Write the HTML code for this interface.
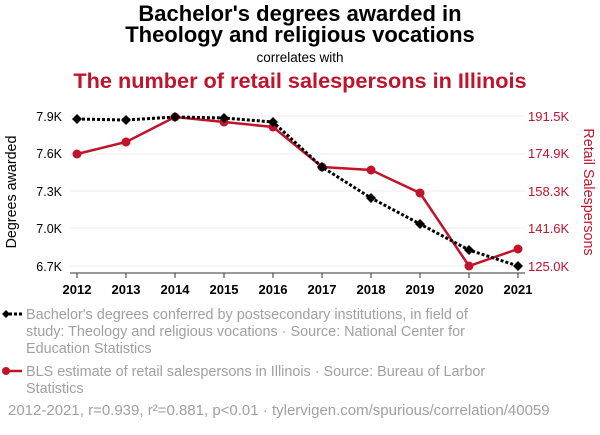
<!DOCTYPE html>
<html><head><meta charset="utf-8"><style>
body{margin:0;background:#fff;width:600px;height:430px;overflow:hidden;font-family:"Liberation Sans",sans-serif}
</style></head><body>
<svg width="600" height="430" xmlns="http://www.w3.org/2000/svg" font-family="Liberation Sans, sans-serif">
<text x="300" y="21" text-anchor="middle" font-size="22" font-weight="bold" fill="#000">Bachelor's degrees awarded in</text>
<text x="300" y="42" text-anchor="middle" font-size="22" font-weight="bold" fill="#000">Theology and religious vocations</text>
<text x="300" y="62" text-anchor="middle" font-size="13.5" fill="#000">correlates with</text>
<text x="300" y="88" text-anchor="middle" font-size="21.7" font-weight="bold" fill="#c0142c">The number of retail salespersons in Illinois</text>
<g stroke="#eee" stroke-width="1">
<line x1="70" x2="525" y1="116" y2="116"/><line x1="70" x2="525" y1="154" y2="154"/><line x1="70" x2="525" y1="191" y2="191"/><line x1="70" x2="525" y1="228" y2="228"/><line x1="70" x2="525" y1="266" y2="266"/>
</g>
<line x1="70" x2="525" y1="273" y2="273" stroke="#333"/>
<g stroke="#333">
<line x1="77" x2="77" y1="273" y2="278"/><line x1="126" x2="126" y1="273" y2="278"/><line x1="175" x2="175" y1="273" y2="278"/><line x1="224" x2="224" y1="273" y2="278"/><line x1="273" x2="273" y1="273" y2="278"/><line x1="322" x2="322" y1="273" y2="278"/><line x1="371" x2="371" y1="273" y2="278"/><line x1="420" x2="420" y1="273" y2="278"/><line x1="469" x2="469" y1="273" y2="278"/><line x1="518" x2="518" y1="273" y2="278"/>
</g>
<g font-size="13" font-weight="bold" text-anchor="middle" fill="#000">
<text x="77" y="294">2012</text><text x="126" y="294">2013</text><text x="175" y="294">2014</text><text x="224" y="294">2015</text><text x="273" y="294">2016</text><text x="322" y="294">2017</text><text x="371" y="294">2018</text><text x="420" y="294">2019</text><text x="469" y="294">2020</text><text x="518" y="294">2021</text>
</g>
<g font-size="12.5" text-anchor="end" fill="#000">
<text x="62" y="121">7.9K</text><text x="62" y="158">7.6K</text><text x="62" y="196">7.3K</text><text x="62" y="233">7.0K</text><text x="62" y="271">6.7K</text>
</g>
<g font-size="13" text-anchor="start" fill="#c0142c">
<text x="528" y="121">191.5K</text><text x="528" y="158">174.9K</text><text x="528" y="196">158.3K</text><text x="528" y="233">141.6K</text><text x="528" y="271">125.0K</text>
</g>
<text transform="translate(16,192) rotate(-90)" text-anchor="middle" font-size="14.3" fill="#000">Degrees awarded</text>
<text transform="translate(584,192) rotate(90)" text-anchor="middle" font-size="14.3" fill="#c0142c">Retail Salespersons</text>
<polyline fill="none" stroke="#c0142c" stroke-width="2.5" points="77,154 126,142 175,117 224,122 273,127 322,167 371,170 420,193 469,266 518,249"/>
<g fill="#c0142c"><circle cx="77" cy="154" r="4.5"/><circle cx="126" cy="142" r="4.5"/><circle cx="175" cy="117" r="4.5"/><circle cx="224" cy="122" r="4.5"/><circle cx="273" cy="127" r="4.5"/><circle cx="322" cy="167" r="4.5"/><circle cx="371" cy="170" r="4.5"/><circle cx="420" cy="193" r="4.5"/><circle cx="469" cy="266" r="4.5"/><circle cx="518" cy="249" r="4.5"/></g>
<polyline fill="none" stroke="#000" stroke-width="3" stroke-dasharray="3,2" points="77,119 126,120 175,117 224,118 273,122 322,167 371,198 420,224 469,250 518,266"/>
<g fill="#000">
<path d="M77,114l5,5l-5,5l-5,-5z"/><path d="M126,115l5,5l-5,5l-5,-5z"/><path d="M175,112l5,5l-5,5l-5,-5z"/><path d="M224,113l5,5l-5,5l-5,-5z"/><path d="M273,117l5,5l-5,5l-5,-5z"/><path d="M322,162l5,5l-5,5l-5,-5z"/><path d="M371,193l5,5l-5,5l-5,-5z"/><path d="M420,219l5,5l-5,5l-5,-5z"/><path d="M469,245l5,5l-5,5l-5,-5z"/><path d="M518,261l5,5l-5,5l-5,-5z"/>
</g>
<line x1="4" x2="22" y1="314" y2="314" stroke="#000" stroke-width="3" stroke-dasharray="3,2"/>
<path d="M6,310l4,4l-4,4l-4,-4z" fill="#000"/>
<g font-size="14.4" fill="#a0a0a0">
<text x="26" y="319">Bachelor's degrees conferred by postsecondary institutions, in field of</text>
<text x="26" y="336">study: Theology and religious vocations · Source: National Center for</text>
<text x="26" y="353">Education Statistics</text>
<text x="26" y="376">BLS estimate of retail salespersons in Illinois · Source: Bureau of Larbor</text>
<text x="26" y="393">Statistics</text>
<text x="8" y="415" font-size="15">2012-2021, r=0.939, r²=0.881, p&lt;0.01 · tylervigen.com/spurious/correlation/40059</text>
</g>
<line x1="4" x2="22" y1="371" y2="371" stroke="#c0142c" stroke-width="2.5"/>
<circle cx="6" cy="371" r="4" fill="#c0142c"/>
</svg>
</body></html>
